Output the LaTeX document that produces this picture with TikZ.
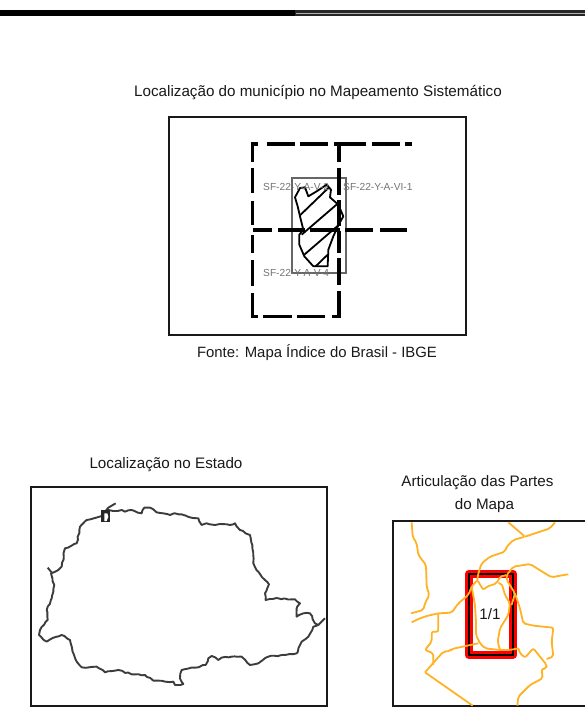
\documentclass[tikz,border=0pt]{standalone}
\usepackage{fontspec}
\usetikzlibrary{decorations.pathmorphing}
\setmainfont{Liberation Sans}
\definecolor{orangeline}{RGB}{255,178,36}
\definecolor{mapline}{RGB}{60,60,60}
\tikzset{
  frame/.style={draw=black!90,line width=2pt},
  title/.style={inner sep=0pt,font=\fontsize{15.2}{17}\selectfont,text=black!90},
  sheet/.style={inner sep=0pt,font=\fontsize{10.2}{12}\selectfont,text=black!55},
  gridline/.style={draw=black,line width=3.4pt},
  hatchline/.style={draw=black,line width=1.8pt},
  orange/.style={draw=orangeline,line width=1.8pt,line join=round,rounded corners=2pt},
  stateline/.style={draw=mapline,line width=1.9pt,line join=round,decorate,decoration={random steps,segment length=3.5pt,amplitude=0.7pt}},
  z1/.style={shift={(230,130)},x=0.3333pt,y=-0.3333pt},
  z2/.style={shift={(390,515)},x=0.3333pt,y=-0.3333pt},
  z3/.style={shift={(25,485)},x=0.3333pt,y=-0.3333pt},
}
\begin{document}
\begin{tikzpicture}[x=1pt,y=-1pt]
\useasboundingbox (0,0) rectangle (585,717);
% header rules
\fill[black] (0,10.5) rectangle (296,16);
\fill[black!85] (295,10.5) rectangle (585,16);
\fill[black!30] (296,13) rectangle (585,14.2);
% titles
\node[title,anchor=base] (t1) at (318,96) {Localização do município no Mapeamento Sistemático};
\node[title,anchor=base,font=\fontsize{14.9}{17}\selectfont] (t2) at (317,357) {Fonte: Mapa Índice do Brasil - IBGE};
\node[title,anchor=base] (t3) at (166,468) {Localização no Estado};
\node[title,anchor=base] (t4) at (477.5,486) {Articulação das Partes};
\node[title,anchor=base] (t5) at (484.5,509) {do Mapa};
% frames
\draw[frame] (169,117) rectangle (466,335);
\draw[frame] (31,487) rectangle (327,706);
\draw[frame] (590,521) -- (393,521) -- (393,706) -- (590,706);
% top panel
\draw[draw=black!60,line width=1.8pt] (292,178) rectangle (346,273);
\begin{scope}[z1]
\draw[hatchline,line join=round] (195,202)--(210,174)--(225,172)--(235,199)--(260,184)--(290,164)--(303,179)--(300,202)--(325,224)--(340,259)--(325,286)--(310,319)--(295,359)--(293,409)--(250,409)--(223,379)--(208,344)--(208,314)--(220,299)--(210,259)--(203,229)--cycle;
\draw[hatchline] (210,256)--(295,174);
\draw[hatchline] (215,314)--(323,221);
\draw[hatchline] (223,374)--(325,286);
\draw[hatchline] (257,409)--(293,374);
\end{scope}
\draw[gridline] (258,144) -- (252.3,144) -- (252.3,162);
\foreach \a/\b in {168/193,201/225,235/253,260/286}
  \draw[gridline] (252.3,\a) -- (252.3,\b);
\draw[gridline] (252.3,293) -- (252.3,316.5) -- (258,316.5);
\foreach \a/\b in {267/295,300/328,334/366,372/400,405/412}
  \draw[gridline] (\a,144) -- (\b,144);
\foreach \a/\b in {253/272,278/305,310/340,345/373,380/407}
  \draw[gridline] (\a,230) -- (\b,230);
\foreach \a/\b in {144/162,168/195,200/226,231/253,258/285}
  \draw[gridline] (339,\a) -- (339,\b);
\draw[gridline] (339,291) -- (339,316.5) -- (332,316.5);
\foreach \a/\b in {263/292,297/325}
  \draw[gridline] (\a,316.5) -- (\b,316.5);
\node[sheet,anchor=base west] (s1) at (263,190) {SF-22-Y-A-V-2};
\node[sheet,anchor=base west] (s2) at (343,190) {SF-22-Y-A-VI-1};
\node[sheet,anchor=base west] (s3) at (263,276) {SF-22-Y-A-V-4};
% state outline
\begin{scope}[z3]
\draw[stateline]
 (230,93)--(250,75)--(265,78)--(290,75)--(300,80)--(320,75)--(350,85)--(358,68)--(375,68)--(395,82)--(415,85)--(435,90)--(450,85)--(470,88)--(495,97)--(520,100)--(530,120)--(545,115)--(570,120)--(585,117)--(615,120)--(630,115)--(645,135)--(675,150)--(682,180)--(685,235)--(700,260)--(720,285)--(732,298)--(720,325)--(722,345)--(760,340)--(810,343)--(825,355)--(815,370)--(815,395)--(835,385)--(855,385)--(870,415)--(880,420)--(865,425)--(850,455)--(830,470)--(815,505)--(770,510)--(730,515)--(700,535)--(675,540)--(650,515)--(620,515)--(590,518)--(580,525)--(560,513)--(550,520)--(542,540)--(510,548)--(470,555)--(465,580)--(475,597)--(450,600)--(445,590)--(420,590)--(400,587)--(385,587)--(360,570)--(320,568)--(280,555)--(240,562)--(215,545)--(170,547)--(155,530)--(142,495)--(135,465)--(110,450)--(95,455)--(65,470)--(42,450)--(45,435)--(68,405)--(65,375)--(80,340)--(88,300)--(78,265)--(100,255)--(110,245)--(120,190)--(155,175)--(165,125)--(185,105)--(230,93);
\draw[draw=mapline,line width=1.9pt] (272,55)--(250,68)--(240,80);
\draw[draw=mapline,line width=1.9pt] (68,248)--(82,265);
\draw[draw=mapline,line width=1.9pt] (880,420)--(900,400);
\fill[black!85] (229,75) rectangle (255,112);
\fill[white] (238,85)--(247,85)--(250,95)--(245,108)--(238,108)--cycle;
\end{scope}
% parts panel
\begin{scope}[z2]
\draw[draw=red,line width=8pt,line join=round] (236,177) rectangle (370,420);
\draw[draw=black,line width=2.2pt] (236,177) rectangle (370,420);
\draw[orange] (65,22)--(68,65)--(80,85)--(85,120)--(108,150)--(110,215)--(118,240)--(105,265)--(100,285)--(63,295);
\draw[orange] (65,322)--(85,312)--(110,303)--(145,295)--(185,293)--(205,265)--(235,240)--(245,215)--(262,195)--(280,225)--(290,215)--(320,205)--(330,185)--(350,180);
\draw[orange] (355,22)--(405,65)--(370,75)--(350,95)--(345,110)--(300,125)--(275,145)--(265,175)--(262,195);
\draw[orange] (405,65)--(480,40)--(495,22);
\draw[orange] (535,178)--(510,182)--(485,187)--(465,175)--(420,147)--(370,155)--(350,180)--(350,195)--(375,235)--(365,270);
\draw[orange] (245,215)--(255,270)--(258,320)--(258,360)--(270,385)--(285,400)--(330,405)--(360,405)--(385,400);
\draw[orange] (325,205)--(335,205)--(345,240)--(360,265)--(355,300)--(330,340)--(323,380)--(330,405);
\draw[orange] (375,235)--(390,280)--(400,325)--(430,332)--(490,338)--(485,380)--(490,425)--(470,432);
\draw[orange] (385,400)--(390,415)--(405,428)--(430,400)--(470,450)--(470,460)--(455,462)--(458,490)--(420,510)--(385,545)--(382,572);
\draw[orange] (105,472)--(160,410)--(180,408)--(185,402)--(265,385);
\draw[orange] (105,472)--(248,572);
\draw[orange] (145,295)--(145,350)--(125,350)--(125,380)--(105,405)--(130,415)--(130,450);
\end{scope}
\node[title,anchor=base] (part) at (490,619) {1/1};
\end{tikzpicture}
\end{document}
